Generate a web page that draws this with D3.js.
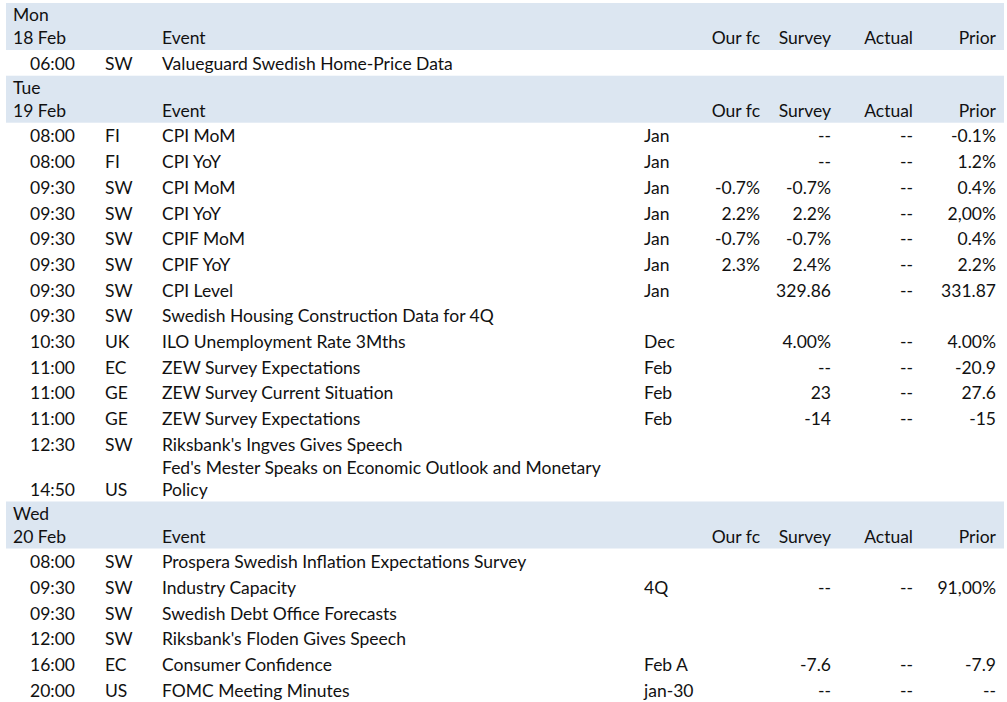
<!DOCTYPE html>
<html>
<head>
<meta charset="utf-8">
<script src="https://cdn.jsdelivr.net/npm/d3@7"></script>
<style>
  body { margin: 0; background: #fff; }
  svg text { font-family: Lato, "Open Sans", sans-serif; fill: #111; }
</style>
</head>
<body>
<svg id="cal" width="1007" height="702"></svg>
<script>
// calendar data
const dayNames = ["Mon", "Tue", "Wed"];
const dayDates = ["18 Feb", "19 Feb", "20 Feb"];
const headLabels = ["Event", "Our fc", "Survey", "Actual", "Prior"];

const evDay = [0, 1,1,1,1,1,1,1,1,1,1,1,1,1,1, 2,2,2,2,2,2];
const evTime = ["06:00",
  "08:00","08:00","09:30","09:30","09:30","09:30","09:30","09:30","10:30","11:00","11:00","11:00","12:30","14:50",
  "08:00","09:30","09:30","12:00","16:00","20:00"];
const evCountry = ["SW",
  "FI","FI","SW","SW","SW","SW","SW","SW","UK","EC","GE","GE","SW","US",
  "SW","SW","SW","SW","EC","US"];
const evName = ["Valueguard Swedish Home-Price Data",
  "CPI MoM","CPI YoY","CPI MoM","CPI YoY","CPIF MoM","CPIF YoY","CPI Level",
  "Swedish Housing Construction Data for 4Q","ILO Unemployment Rate 3Mths",
  "ZEW Survey Expectations","ZEW Survey Current Situation","ZEW Survey Expectations",
  "Riksbank's Ingves Gives Speech",
  ["Fed's Mester Speaks on Economic Outlook and Monetary", "Policy"],
  "Prospera Swedish Inflation Expectations Survey","Industry Capacity",
  "Swedish Debt Office Forecasts","Riksbank's Floden Gives Speech",
  "Consumer Confidence","FOMC Meeting Minutes"];
const evPeriod = ["",
  "Jan","Jan","Jan","Jan","Jan","Jan","Jan","","Dec","Feb","Feb","Feb","","",
  "","4Q","","","Feb A","jan-30"];
const evOurFc = ["",
  "","","-0.7%","2.2%","-0.7%","2.3%","","","","","","","","",
  "","","","","",""];
const evSurvey = ["",
  "--","--","-0.7%","2.2%","-0.7%","2.4%","329.86","","4.00%","--","23","-14","","",
  "","--","","","-7.6","--"];
const evActual = ["",
  "--","--","--","--","--","--","--","","--","--","--","--","","",
  "","--","","","--","--"];
const evPrior = ["",
  "-0.1%","1.2%","0.4%","2,00%","0.4%","2.2%","331.87","","4.00%","-20.9","27.6","-15","","",
  "","91,00%","","","-7.9","--"];

const svg = d3.select("#cal");
const top0 = 3, bandH = 47, rowH = 25.7, wrapGap = 22;

// column positions
const colX = d3.scaleOrdinal()
  .domain(["day","time","country","event","period","ourfc","survey","actual","prior"])
  .range([13, 30, 105, 162, 644, 760, 831, 913, 996]);
const rightCols = ["ourfc","survey","actual","prior"];
const headKeys = ["event","ourfc","survey","actual","prior"];

// build vertical layout
let y = top0;
const bands = [];
const rows = [];
dayNames.forEach((dn, di) => {
  bands.push({name: dn, date: dayDates[di], y: y});
  y += bandH;
  evDay.forEach((d, i) => {
    if (d !== di) return;
    const lines = Array.isArray(evName[i]) ? evName[i] : [evName[i]];
    const h = lines.length > 1 ? rowH + wrapGap - 3 : rowH;
    rows.push({i: i, y: y, h: h, lines: lines});
    y += h;
  });
});

// fit font to the reference text width
const probe = svg.append("text").attr("font-size", 16).text("Valueguard Swedish Home-Price Data");
const fs = 16 * 291 / probe.node().getComputedTextLength();
probe.remove();
svg.attr("font-size", fs);

const bandG = svg.selectAll("g.band").data(bands).enter()
  .append("g").attr("class", "band")
  .attr("transform", d => "translate(0," + d.y + ")");
bandG.append("rect").attr("x", 6).attr("width", 998).attr("height", bandH).attr("fill", "#dce6f1");
bandG.append("text").attr("x", colX("day")).attr("y", 12).attr("dy", "0.35em").text(d => d.name);
bandG.append("text").attr("x", colX("day")).attr("y", 35).attr("dy", "0.35em").text(d => d.date);
headKeys.forEach((k, j) => {
  bandG.append("text")
    .attr("x", colX(k)).attr("y", 35).attr("dy", "0.35em")
    .attr("text-anchor", rightCols.includes(k) ? "end" : "start")
    .text(headLabels[j]);
});

const rowG = svg.selectAll("g.row").data(rows).enter()
  .append("g").attr("class", "row")
  .attr("transform", d => "translate(0," + d.y + ")");

// bottom line of each row (cells are bottom-aligned)
const baseY = d => d.h - rowH / 2 + 0.8;
const cells = [
  ["time", evTime], ["country", evCountry], ["period", evPeriod],
  ["ourfc", evOurFc], ["survey", evSurvey], ["actual", evActual], ["prior", evPrior]
];
cells.forEach(([k, arr]) => {
  rowG.append("text")
    .attr("x", colX(k)).attr("y", baseY).attr("dy", "0.35em")
    .attr("text-anchor", rightCols.includes(k) ? "end" : "start")
    .text(d => arr[d.i]);
});
rowG.each(function(d) {
  const g = d3.select(this);
  d.lines.forEach((ln, li) => {
    g.append("text")
      .attr("x", colX("event"))
      .attr("y", baseY(d) - (d.lines.length - 1 - li) * wrapGap)
      .attr("dy", "0.35em")
      .text(ln);
  });
});
</script>
</body>
</html>
